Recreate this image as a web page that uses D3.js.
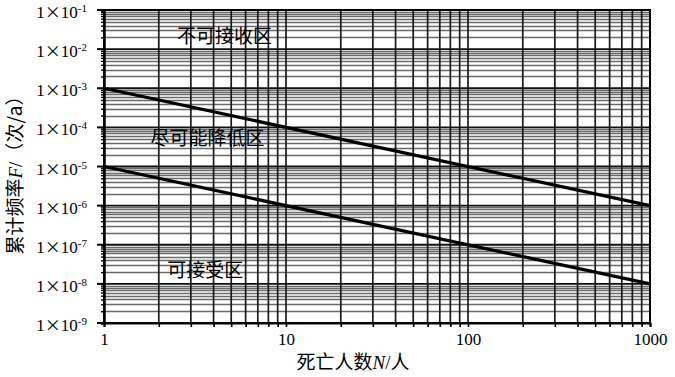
<!DOCTYPE html>
<html>
<head>
<meta charset="utf-8">
<script src="https://cdn.jsdelivr.net/npm/d3@7"></script>
<style>
  body { margin: 0; background: #fff; }
  text { font-family: "Liberation Serif", "Noto Sans CJK SC", serif; }
</style>
</head>
<body>
<div id="chart"></div>
<script>
// data
const deaths = [1, 1000];
const upperLimit = [1e-3, 1e-6];
const lowerLimit = [1e-5, 1e-8];
const xTickValues = [1, 10, 100, 1000];
const yExponents = [-1, -2, -3, -4, -5, -6, -7, -8, -9];
const regionNames = ["不可接收区", "尽可能降低区", "可接受区"];
const regionN = [4.6, 3.7, 3.6];
const regionF = [2.1e-2, 5.2e-5, 2.2e-8];

const margin = { top: 10, right: 25, bottom: 54, left: 104 },
    width = 675 - margin.left - margin.right,
    height = 377 - margin.top - margin.bottom;

const x = d3.scaleLog().domain([1, 1000]).range([0, width]);
const y = d3.scaleLog().domain([1e-9, 1e-1]).range([height, 0]);

const svg = d3.select("#chart").append("svg")
    .attr("width", 675).attr("height", 377)
    .append("g")
    .attr("transform", "translate(" + margin.left + "," + margin.top + ")");

// minor positions
const xMinor = [];
for (let e = 0; e < 3; e++) for (let m = 1; m < 10; m++) xMinor.push(m * Math.pow(10, e));
xMinor.push(1000);
const yMinor = [];
for (let e = -9; e < -1; e++) for (let m = 1; m < 10; m++) yMinor.push(m * Math.pow(10, e));
yMinor.push(1e-1);

// horizontal grid (minor grey, major black)
svg.append("g").selectAll("line")
    .data(yMinor.filter(v => Math.abs(Math.log10(v) - Math.round(Math.log10(v))) > 1e-6))
    .enter().append("line")
    .attr("x1", 0).attr("x2", width)
    .attr("y1", d => Math.round(y(d)) + 0.5).attr("y2", d => Math.round(y(d)) + 0.5)
    .style("stroke", "#6a6a6a").style("stroke-width", 1.6);

svg.append("g").selectAll("line")
    .data(yExponents.map(e => Math.pow(10, e)))
    .enter().append("line")
    .attr("x1", 0).attr("x2", width)
    .attr("y1", d => y(d)).attr("y2", d => y(d))
    .style("stroke", "#111").style("stroke-width", 1.8);

// vertical grid
svg.append("g").selectAll("line")
    .data(xMinor)
    .enter().append("line")
    .attr("y1", 0).attr("y2", height)
    .attr("x1", d => x(d)).attr("x2", d => x(d))
    .style("stroke", "#1a1a1a").style("stroke-width", 1.7);

// axes
const xAxis = d3.axisBottom(x).tickValues(xMinor).tickSize(4)
    .tickFormat(d => xTickValues.includes(d) ? d : "");
svg.append("g")
    .attr("transform", "translate(0," + height + ")")
    .call(xAxis)
    .call(g => g.select(".domain").style("stroke", "#000").style("stroke-width", 2))
    .call(g => g.selectAll(".tick line").style("stroke", "#000").style("stroke-width", 1.6))
    .call(g => g.selectAll(".tick text").attr("dy", "0.9em")
        .style("font-size", "17px").style("fill", "#000"));

const yAxis = d3.axisLeft(y).tickValues(yMinor)
    .tickSize(3).tickFormat("");
svg.append("g")
    .call(yAxis)
    .call(g => g.select(".domain").style("stroke", "#000").style("stroke-width", 2.5))
    .call(g => g.selectAll(".tick line").style("stroke", "#000").style("stroke-width", 1.4));

// major y ticks and labels
const yLab = svg.append("g").selectAll("g")
    .data(yExponents)
    .enter().append("g")
    .attr("transform", d => "translate(0," + y(Math.pow(10, d)) + ")");
yLab.append("line").attr("x1", -7).attr("x2", 0)
    .style("stroke", "#000").style("stroke-width", 2);
const yt = yLab.append("text")
    .attr("x", -17).attr("y", 8)
    .attr("text-anchor", "end")
    .style("font-size", "17px").style("fill", "#000");
yt.append("tspan").text("1");
yt.append("tspan").style("font-family", "'Noto Sans CJK SC'").style("font-size", "16px").text("×");
yt.append("tspan").text("10");
yt.append("tspan").attr("dy", -6).style("font-size", "11px").text(d => d);

// plot border
svg.append("rect").attr("x", 0).attr("y", 0).attr("width", width).attr("height", height)
    .style("fill", "none").style("stroke", "#000").style("stroke-width", 2);

// criterion lines
const line = d3.line().x(d => x(d[0])).y(d => y(d[1]));
[upperLimit, lowerLimit].forEach(vals => {
    svg.append("path")
        .datum(deaths.map((n, i) => [n, vals[i]]))
        .attr("d", line)
        .style("fill", "none").style("stroke", "#000").style("stroke-width", 3.2);
});

// region labels
svg.append("g").selectAll("text")
    .data(regionNames)
    .enter().append("text")
    .attr("x", (d, i) => x(regionN[i]))
    .attr("y", (d, i) => y(regionF[i]))
    .attr("text-anchor", "middle").attr("dy", "0.35em")
    .style("font-family", "'Noto Sans CJK SC', sans-serif")
    .style("font-size", "19px").style("fill", "#000")
    .text(d => d);

// X axis title
const xt = svg.append("text")
    .attr("x", 249).attr("y", height + 46)
    .attr("text-anchor", "middle")
    .style("font-size", "19px").style("fill", "#000");
xt.append("tspan").style("font-family", "'Noto Sans CJK SC'").text("死亡人数");
xt.append("tspan").style("font-style", "italic").text("N");
xt.append("tspan").text("/");
xt.append("tspan").style("font-family", "'Noto Sans CJK SC'").text("人");

// Y axis title
const ytl = svg.append("text")
    .attr("transform", "translate(" + (-82) + "," + (height / 2 + 4) + ") rotate(-90)")
    .attr("text-anchor", "middle")
    .style("font-size", "19px").style("fill", "#000");
ytl.append("tspan").style("font-family", "'Noto Sans CJK SC'").text("累计频率");
ytl.append("tspan").style("font-style", "italic").text("F");
ytl.append("tspan").text("/");
ytl.append("tspan").style("font-family", "'Noto Sans CJK SC'").text("（次/a）");
</script>
</body>
</html>
